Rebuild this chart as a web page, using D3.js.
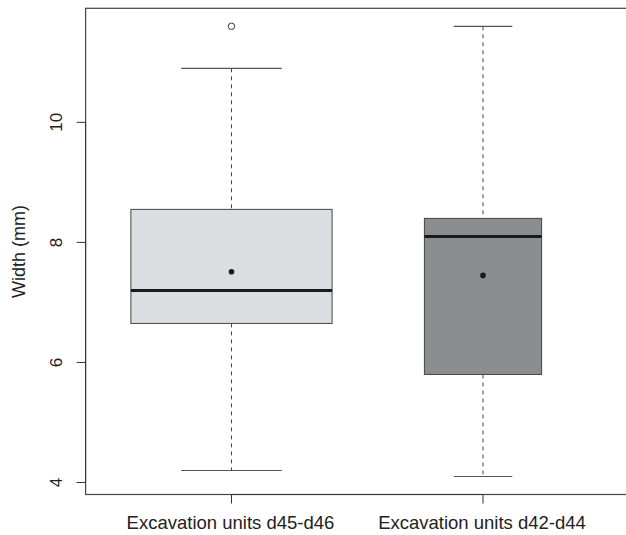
<!DOCTYPE html>
<html>
<head>
<meta charset="utf-8">
<script src="https://cdn.jsdelivr.net/npm/d3@7"></script>
<style>
  body { margin: 0; background: #fff; }
  text { font-family: 'Liberation Sans', Arial, sans-serif; }
</style>
</head>
<body>
<svg id="chart" width="626" height="535"></svg>
<script>
// data
const groups = ['Excavation units d45-d46', 'Excavation units d42-d44'];
const lowerWhisker = [4.2, 4.1];
const q1 = [6.65, 5.8];
const medians = [7.2, 8.1];
const q3 = [8.55, 8.4];
const upperWhisker = [10.9, 11.6];
const means = [7.51, 7.45];
const outliers = [[11.6], []];
const boxHalfWidth = [0.4, 0.233];
const yTicks = [4, 6, 8, 10];

const fills = ['#dcdde0', '#8c8d91'];

const svg = d3.select('#chart');

const x = d3.scaleLinear().domain([0.42, 2.58]).range([85.6, 628.9]);
const y = d3.scaleLinear().domain([3.8, 11.9]).range([494.5, 8.3]);

// plot frame (runs off the right edge like the original)
svg.append('rect')
    .attr('x', x(0.42))
    .attr('y', y(11.9))
    .attr('width', x(2.58) - x(0.42))
    .attr('height', y(3.8) - y(11.9))
    .attr('fill', 'none')
    .attr('stroke', '#444')
    .attr('stroke-width', 1.2);

groups.forEach((g, i) => {
    const cx = x(i + 1);
    const hw = x(1 + boxHalfWidth[i]) - x(1);
    const layer = svg.append('g');

    // whiskers
    layer.append('line')
        .attr('x1', cx).attr('x2', cx)
        .attr('y1', y(upperWhisker[i])).attr('y2', y(q3[i]))
        .attr('stroke', '#444').attr('stroke-dasharray', '4,4');
    layer.append('line')
        .attr('x1', cx).attr('x2', cx)
        .attr('y1', y(q1[i])).attr('y2', y(lowerWhisker[i]))
        .attr('stroke', '#444').attr('stroke-dasharray', '4,4');

    // caps
    [upperWhisker[i], lowerWhisker[i]].forEach(v => {
        layer.append('line')
            .attr('x1', cx - hw / 2).attr('x2', cx + hw / 2)
            .attr('y1', y(v)).attr('y2', y(v))
            .attr('stroke', '#555').attr('stroke-width', 1.2);
    });

    // box
    layer.append('rect')
        .attr('x', cx - hw)
        .attr('y', y(q3[i]))
        .attr('width', hw * 2)
        .attr('height', y(q1[i]) - y(q3[i]))
        .attr('fill', fills[i])
        .attr('stroke', '#444')
        .attr('stroke-width', 1);

    // median
    layer.append('line')
        .attr('x1', cx - hw).attr('x2', cx + hw)
        .attr('y1', y(medians[i])).attr('y2', y(medians[i]))
        .attr('stroke', '#1a1a1a').attr('stroke-width', 3);

    // mean
    layer.append('circle')
        .attr('cx', cx).attr('cy', y(means[i]))
        .attr('r', 2.8).attr('fill', '#1a1a1a');

    // outliers
    outliers[i].forEach(v => {
        layer.append('circle')
            .attr('cx', cx).attr('cy', y(v))
            .attr('r', 3.2)
            .attr('fill', 'none')
            .attr('stroke', '#333');
    });
});

// y axis
const yAxis = svg.append('g');
yAxis.append('line')
    .attr('x1', x(0.42)).attr('x2', x(0.42))
    .attr('y1', y(4)).attr('y2', y(10))
    .attr('stroke', '#333');
yTicks.forEach(t => {
    yAxis.append('line')
        .attr('x1', x(0.42) - 9).attr('x2', x(0.42))
        .attr('y1', y(t)).attr('y2', y(t))
        .attr('stroke', '#333');
    yAxis.append('text')
        .attr('transform', `translate(62,${y(t)}) rotate(-90)`)
        .attr('text-anchor', 'middle')
        .attr('font-size', 17)
        .attr('fill', '#222')
        .text(t);
});
svg.append('text')
    .attr('transform', `translate(25,${(y(3.8) + y(11.9)) / 2}) rotate(-90)`)
    .attr('text-anchor', 'middle')
    .attr('font-size', 18)
    .attr('fill', '#222')
    .text('Width (mm)');

// x axis
const xAxis = svg.append('g');
xAxis.append('line')
    .attr('x1', x(1)).attr('x2', x(2))
    .attr('y1', y(3.8)).attr('y2', y(3.8))
    .attr('stroke', '#333');
groups.forEach((g, i) => {
    xAxis.append('line')
        .attr('x1', x(i + 1)).attr('x2', x(i + 1))
        .attr('y1', y(3.8)).attr('y2', y(3.8) + 9)
        .attr('stroke', '#333');
    xAxis.append('text')
        .attr('x', x(i + 1) - 1)
        .attr('y', 529)
        .attr('text-anchor', 'middle')
        .attr('font-size', 18.5)
        .attr('fill', '#222')
        .text(g);
});
</script>
</body>
</html>
